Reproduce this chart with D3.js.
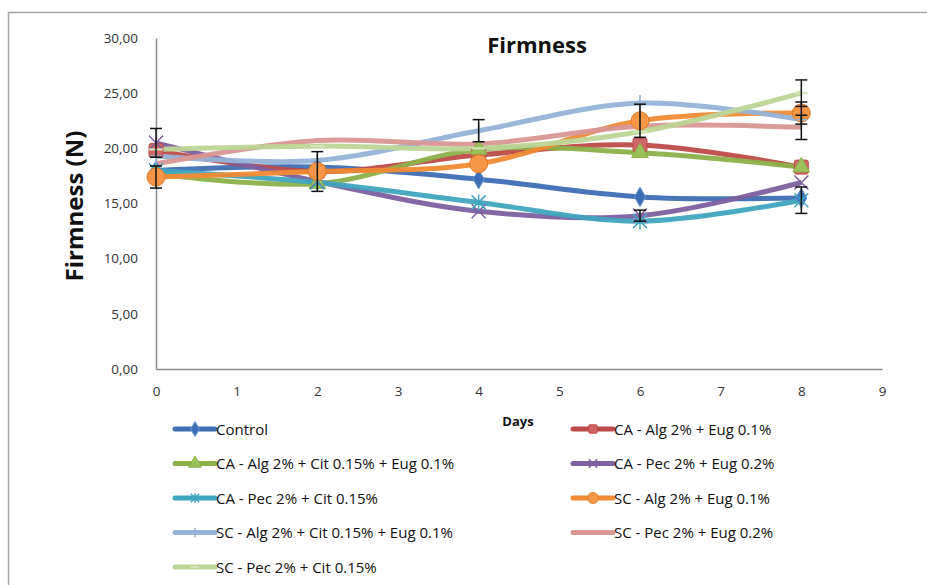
<!DOCTYPE html>
<html><head><meta charset="utf-8">
<script src="https://cdn.jsdelivr.net/npm/d3@7"></script>
<style>body{margin:0;background:#fff}svg{display:block}text{font-family:"Open Sans",sans-serif}</style>
</head><body><svg id="c" width="927" height="585"></svg>
<script>
const days = [0, 2, 4, 6, 8];
const seriesNames = ["Control","CA - Alg 2% + Eug 0.1%","CA - Alg 2% + Cit 0.15% + Eug 0.1%","CA - Pec 2% + Eug 0.2%","CA - Pec 2% + Cit 0.15%","SC - Alg 2% + Eug 0.1%","SC - Alg 2% + Cit 0.15% + Eug 0.1%","SC - Pec 2% + Eug 0.2%","SC - Pec 2% + Cit 0.15%"];
const control      = [18.0, 18.3, 17.2, 15.6, 15.5];
const caAlgEug     = [19.8, 17.9, 19.4, 20.3, 18.3];
const caAlgCitEug  = [17.7, 16.8, 19.9, 19.6, 18.3];
const caPecEug     = [20.5, 17.0, 14.3, 13.9, 16.9];
const caPecCit     = [18.0, 16.9, 15.1, 13.4, 15.3];
const scAlgEug     = [17.4, 17.9, 18.6, 22.5, 23.2];
const scAlgCitEug  = [19.3, 18.9, 21.6, 24.1, 22.6];
const scPecEug     = [18.6, 20.7, 20.4, 22.0, 21.9];
const scPecCit     = [19.9, 20.2, 20.0, 21.5, 25.0];
const errControl     = [0, 0, 0, 0, 0];
const errCaAlgEug    = [0, 0, 0, 0, 0];
const errCaAlgCitEug = [0, 0, 0, 0, 0];
const errCaPecEug    = [1.3, 0, 0, 0.5, 0];
const errCaPecCit    = [0, 0, 0, 0, 1.2];
const errScAlgEug    = [1.0, 1.8, 0, 1.5, 1.0];
const errScAlgCitEug = [0, 0, 1.0, 0, 0];
const errScPecEug    = [0, 0, 0, 0, 1.1];
const errScPecCit    = [0, 0, 0, 0, 1.2];
const yTicks = [0, 5, 10, 15, 20, 25, 30];
const xTicks = [0,1,2,3,4,5,6,7,8,9];

const values = [control, caAlgEug, caAlgCitEug, caPecEug, caPecCit, scAlgEug, scAlgCitEug, scPecEug, scPecCit];
const errs = [errControl, errCaAlgEug, errCaAlgCitEug, errCaPecEug, errCaPecCit, errScAlgEug, errScAlgCitEug, errScPecEug, errScPecCit];
const colors = ["#3E6EB4","#BE4B48","#8DB04A","#7D60A0","#3FA5BF","#F08A33","#95B3D7","#D99694","#BDD596"];
const markers = ["diamond","square","triangle","x","asterisk","circle","plus","none","dash"];

const svg = d3.select("#c");
// frame
svg.append("path").attr("d","M8.5,585 V12.5 H927").attr("fill","none").attr("stroke","#a6a6a6").attr("stroke-width",1.5);

const x = d3.scaleLinear().domain([0,9]).range([156,882]);
const y = d3.scaleLinear().domain([0,30]).range([369,38]);

// axes
const xa = svg.append("g").attr("transform","translate(0,369)").call(d3.axisBottom(x).tickValues(xTicks).tickSize(0).tickPadding(17).tickFormat(d3.format("d")));
const ya = svg.append("g").attr("transform","translate(156,0)").call(d3.axisLeft(y).tickValues(yTicks).tickSize(0).tickPadding(18).tickFormat(d=>d3.format(".2f")(d).replace(".",",")));
[xa,ya].forEach(a=>{a.select(".domain").attr("stroke","#8c8c8c").attr("stroke-width",1.5);a.selectAll("text").attr("font-family","Open Sans, sans-serif").attr("font-size",13.5).attr("fill","#333");});

svg.append("text").attr("x",537).attr("y",53).attr("text-anchor","middle").attr("font-size",22).attr("font-weight","bold").attr("fill","#111").text("Firmness");
svg.append("text").attr("transform","translate(83,206) rotate(-90)").attr("text-anchor","middle").attr("font-size",24).attr("font-weight","bold").attr("fill","#111").text("Firmness (N)");
svg.append("text").attr("x",518).attr("y",426).attr("text-anchor","middle").attr("font-size",13).attr("font-weight","bold").attr("fill","#111").text("Days");

const line = d3.line().x((d,i)=>x(days[i])).y(d=>y(d)).curve(d3.curveCatmullRom.alpha(0.5));

function drawMarker(g, type, cx, cy, col, s) {
  s = s || 1;
  if (type==="diamond") g.append("path").attr("d",d3.symbol(d3.symbolDiamond,110*s)()).attr("transform",`translate(${cx},${cy})`).attr("fill",col).attr("stroke","#6f98d0").attr("stroke-width",1);
  else if (type==="square") g.append("rect").attr("x",cx-7*s).attr("y",cy-7*s).attr("width",14*s).attr("height",14*s).attr("rx",2*s).attr("fill","#d06664").attr("stroke",col).attr("stroke-width",1);
  else if (type==="triangle") g.append("path").attr("d",d3.symbol(d3.symbolTriangle,120*s)()).attr("transform",`translate(${cx},${cy})`).attr("fill","#9bc25a").attr("stroke",col);
  else if (type==="x") g.append("path").attr("d",`M${cx-7*s},${cy-7*s}L${cx+7*s},${cy+7*s}M${cx-7*s},${cy+7*s}L${cx+7*s},${cy-7*s}`).attr("stroke",col).attr("stroke-width",1.5);
  else if (type==="asterisk") g.append("path").attr("d",`M${cx-7*s},${cy-7*s}L${cx+7*s},${cy+7*s}M${cx-7*s},${cy+7*s}L${cx+7*s},${cy-7*s}M${cx},${cy-8*s}V${cy+8*s}`).attr("stroke",col).attr("stroke-width",1.5);
  else if (type==="circle") g.append("circle").attr("cx",cx).attr("cy",cy).attr("r",9*s).attr("fill","#F79646").attr("stroke","#e07a25").attr("stroke-width",1);
  else if (type==="plus") g.append("path").attr("d",`M${cx},${cy-8*s}V${cy+8*s}M${cx-6*s},${cy}H${cx+6*s}`).attr("stroke",col).attr("stroke-width",1.5);
  else if (type==="dash") g.append("path").attr("d",`M${cx-7*s},${cy}H${cx+7*s}`).attr("stroke","#d6e6bd").attr("stroke-width",2);
}

const plot = svg.append("g");
values.forEach((v,k)=>{
  plot.append("path").datum(v).attr("d",line).attr("fill","none").attr("stroke",colors[k]).attr("stroke-width",5).attr("stroke-opacity",0.95);
});
values.forEach((v,k)=>{
  const g = plot.append("g");
  v.forEach((d,i)=>drawMarker(g, markers[k], x(days[i]), y(d), colors[k]));
});
// error bars
values.forEach((v,k)=>{
  v.forEach((d,i)=>{
    const e = errs[k][i]; if(!e) return;
    const cx = x(days[i]);
    const g = plot.append("g").attr("stroke","#111").attr("stroke-width",1.5);
    g.append("line").attr("x1",cx).attr("x2",cx).attr("y1",y(d+e)).attr("y2",y(d-e));
    g.append("line").attr("x1",cx-6).attr("x2",cx+6).attr("y1",y(d+e)).attr("y2",y(d+e));
    g.append("line").attr("x1",cx-6).attr("x2",cx+6).attr("y1",y(d-e)).attr("y2",y(d-e));
  });
});

// legend
const legX = [175, 573];
const legY0 = 429, legDy = 34.5;
seriesNames.forEach((n,k)=>{
  const col = k%2, row = Math.floor(k/2);
  const lx = legX[col], ly = legY0 + row*legDy;
  const g = svg.append("g");
  g.append("line").attr("x1",lx).attr("x2",lx+40).attr("y1",ly).attr("y2",ly).attr("stroke",colors[k]).attr("stroke-width",5).attr("stroke-linecap","round");
  drawMarker(g, markers[k], lx+20, ly, colors[k], 0.6);
  g.append("text").attr("x",lx+41).attr("y",ly+5.5).attr("font-size",15).attr("fill","#111").attr("textLength", null).text(n);
});
</script></body></html>
